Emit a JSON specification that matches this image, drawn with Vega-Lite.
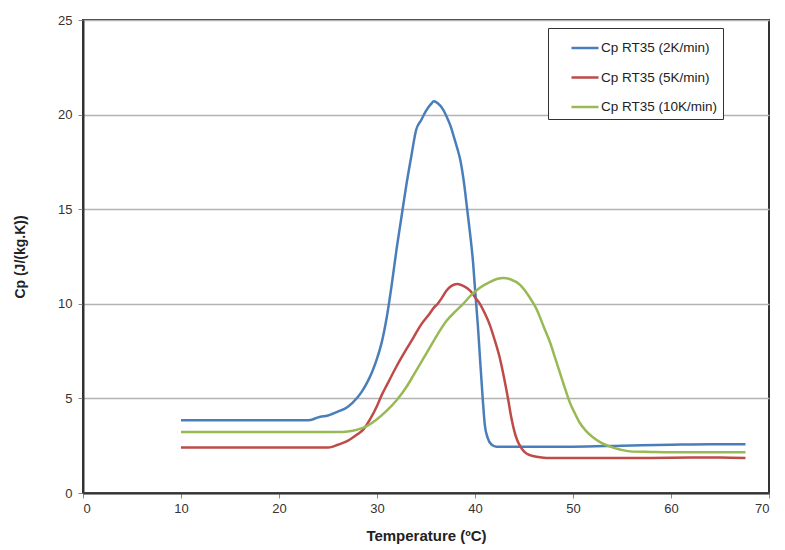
{
  "$schema": "https://vega.github.io/schema/vega-lite/v6.json",
  "width": 686,
  "height": 473,
  "autosize": {"type": "none"},
  "padding": {"left": 83, "top": 20, "right": 16, "bottom": 57},
  "background": "white",
  "config": {
    "font": "Liberation Sans",
    "view": {"stroke": "#333333", "strokeWidth": 2}
  },
  "data": {
    "values": [
      {"series": "Cp RT35 (2K/min)", "T": 10, "Cp": 3.85},
      {"series": "Cp RT35 (2K/min)", "T": 15, "Cp": 3.85},
      {"series": "Cp RT35 (2K/min)", "T": 20, "Cp": 3.85},
      {"series": "Cp RT35 (2K/min)", "T": 23, "Cp": 3.85},
      {"series": "Cp RT35 (2K/min)", "T": 23.5, "Cp": 3.9},
      {"series": "Cp RT35 (2K/min)", "T": 24, "Cp": 4.0},
      {"series": "Cp RT35 (2K/min)", "T": 25, "Cp": 4.1},
      {"series": "Cp RT35 (2K/min)", "T": 26, "Cp": 4.3},
      {"series": "Cp RT35 (2K/min)", "T": 27, "Cp": 4.55},
      {"series": "Cp RT35 (2K/min)", "T": 28, "Cp": 5.05},
      {"series": "Cp RT35 (2K/min)", "T": 28.5, "Cp": 5.4},
      {"series": "Cp RT35 (2K/min)", "T": 29, "Cp": 5.85},
      {"series": "Cp RT35 (2K/min)", "T": 29.5, "Cp": 6.4},
      {"series": "Cp RT35 (2K/min)", "T": 30, "Cp": 7.1},
      {"series": "Cp RT35 (2K/min)", "T": 30.5, "Cp": 8.0},
      {"series": "Cp RT35 (2K/min)", "T": 31, "Cp": 9.3},
      {"series": "Cp RT35 (2K/min)", "T": 31.5, "Cp": 11.0},
      {"series": "Cp RT35 (2K/min)", "T": 32, "Cp": 12.9},
      {"series": "Cp RT35 (2K/min)", "T": 32.5, "Cp": 14.6},
      {"series": "Cp RT35 (2K/min)", "T": 33, "Cp": 16.3},
      {"series": "Cp RT35 (2K/min)", "T": 33.5, "Cp": 17.8},
      {"series": "Cp RT35 (2K/min)", "T": 34, "Cp": 19.2},
      {"series": "Cp RT35 (2K/min)", "T": 34.5, "Cp": 19.7},
      {"series": "Cp RT35 (2K/min)", "T": 35, "Cp": 20.2},
      {"series": "Cp RT35 (2K/min)", "T": 35.5, "Cp": 20.55},
      {"series": "Cp RT35 (2K/min)", "T": 35.8, "Cp": 20.7},
      {"series": "Cp RT35 (2K/min)", "T": 36.2, "Cp": 20.6},
      {"series": "Cp RT35 (2K/min)", "T": 36.7, "Cp": 20.3},
      {"series": "Cp RT35 (2K/min)", "T": 37.1, "Cp": 19.9},
      {"series": "Cp RT35 (2K/min)", "T": 37.5, "Cp": 19.4},
      {"series": "Cp RT35 (2K/min)", "T": 37.8, "Cp": 18.9},
      {"series": "Cp RT35 (2K/min)", "T": 38.2, "Cp": 18.2},
      {"series": "Cp RT35 (2K/min)", "T": 38.5, "Cp": 17.6},
      {"series": "Cp RT35 (2K/min)", "T": 38.9, "Cp": 16.3},
      {"series": "Cp RT35 (2K/min)", "T": 39.2, "Cp": 15.0},
      {"series": "Cp RT35 (2K/min)", "T": 39.5, "Cp": 13.7},
      {"series": "Cp RT35 (2K/min)", "T": 39.8, "Cp": 12.2},
      {"series": "Cp RT35 (2K/min)", "T": 40.0, "Cp": 10.8},
      {"series": "Cp RT35 (2K/min)", "T": 40.3, "Cp": 8.8},
      {"series": "Cp RT35 (2K/min)", "T": 40.5, "Cp": 7.2},
      {"series": "Cp RT35 (2K/min)", "T": 40.8, "Cp": 4.9},
      {"series": "Cp RT35 (2K/min)", "T": 41.0, "Cp": 3.6},
      {"series": "Cp RT35 (2K/min)", "T": 41.3, "Cp": 2.9},
      {"series": "Cp RT35 (2K/min)", "T": 41.7, "Cp": 2.55},
      {"series": "Cp RT35 (2K/min)", "T": 42.2, "Cp": 2.45},
      {"series": "Cp RT35 (2K/min)", "T": 45, "Cp": 2.45},
      {"series": "Cp RT35 (2K/min)", "T": 50, "Cp": 2.45},
      {"series": "Cp RT35 (2K/min)", "T": 55, "Cp": 2.5},
      {"series": "Cp RT35 (2K/min)", "T": 60, "Cp": 2.55},
      {"series": "Cp RT35 (2K/min)", "T": 64, "Cp": 2.58},
      {"series": "Cp RT35 (2K/min)", "T": 67.6, "Cp": 2.58},

      {"series": "Cp RT35 (5K/min)", "T": 10, "Cp": 2.4},
      {"series": "Cp RT35 (5K/min)", "T": 20, "Cp": 2.4},
      {"series": "Cp RT35 (5K/min)", "T": 25, "Cp": 2.4},
      {"series": "Cp RT35 (5K/min)", "T": 25.5, "Cp": 2.45},
      {"series": "Cp RT35 (5K/min)", "T": 26, "Cp": 2.55},
      {"series": "Cp RT35 (5K/min)", "T": 27, "Cp": 2.75},
      {"series": "Cp RT35 (5K/min)", "T": 28, "Cp": 3.1},
      {"series": "Cp RT35 (5K/min)", "T": 28.6, "Cp": 3.35},
      {"series": "Cp RT35 (5K/min)", "T": 29.3, "Cp": 3.9},
      {"series": "Cp RT35 (5K/min)", "T": 30, "Cp": 4.6},
      {"series": "Cp RT35 (5K/min)", "T": 30.5, "Cp": 5.2},
      {"series": "Cp RT35 (5K/min)", "T": 31, "Cp": 5.7},
      {"series": "Cp RT35 (5K/min)", "T": 32, "Cp": 6.7},
      {"series": "Cp RT35 (5K/min)", "T": 33, "Cp": 7.6},
      {"series": "Cp RT35 (5K/min)", "T": 33.7, "Cp": 8.2},
      {"series": "Cp RT35 (5K/min)", "T": 34.5, "Cp": 8.9},
      {"series": "Cp RT35 (5K/min)", "T": 35.4, "Cp": 9.5},
      {"series": "Cp RT35 (5K/min)", "T": 35.8, "Cp": 9.8},
      {"series": "Cp RT35 (5K/min)", "T": 36.2, "Cp": 10.0},
      {"series": "Cp RT35 (5K/min)", "T": 36.6, "Cp": 10.3},
      {"series": "Cp RT35 (5K/min)", "T": 37.1, "Cp": 10.7},
      {"series": "Cp RT35 (5K/min)", "T": 37.6, "Cp": 10.95},
      {"series": "Cp RT35 (5K/min)", "T": 38.2, "Cp": 11.05},
      {"series": "Cp RT35 (5K/min)", "T": 38.8, "Cp": 10.95},
      {"series": "Cp RT35 (5K/min)", "T": 39.5, "Cp": 10.7},
      {"series": "Cp RT35 (5K/min)", "T": 40.0, "Cp": 10.35},
      {"series": "Cp RT35 (5K/min)", "T": 40.5, "Cp": 10.0},
      {"series": "Cp RT35 (5K/min)", "T": 41.0, "Cp": 9.5},
      {"series": "Cp RT35 (5K/min)", "T": 41.5, "Cp": 8.9},
      {"series": "Cp RT35 (5K/min)", "T": 42.0, "Cp": 8.1},
      {"series": "Cp RT35 (5K/min)", "T": 42.5, "Cp": 7.2},
      {"series": "Cp RT35 (5K/min)", "T": 43.0, "Cp": 6.0},
      {"series": "Cp RT35 (5K/min)", "T": 43.4, "Cp": 4.9},
      {"series": "Cp RT35 (5K/min)", "T": 43.7, "Cp": 4.0},
      {"series": "Cp RT35 (5K/min)", "T": 44.0, "Cp": 3.3},
      {"series": "Cp RT35 (5K/min)", "T": 44.3, "Cp": 2.8},
      {"series": "Cp RT35 (5K/min)", "T": 44.7, "Cp": 2.4},
      {"series": "Cp RT35 (5K/min)", "T": 45.1, "Cp": 2.15},
      {"series": "Cp RT35 (5K/min)", "T": 45.6, "Cp": 2.0},
      {"series": "Cp RT35 (5K/min)", "T": 46.5, "Cp": 1.9},
      {"series": "Cp RT35 (5K/min)", "T": 47.3, "Cp": 1.85},
      {"series": "Cp RT35 (5K/min)", "T": 55, "Cp": 1.85},
      {"series": "Cp RT35 (5K/min)", "T": 60, "Cp": 1.86},
      {"series": "Cp RT35 (5K/min)", "T": 65, "Cp": 1.88},
      {"series": "Cp RT35 (5K/min)", "T": 67.6, "Cp": 1.85},

      {"series": "Cp RT35 (10K/min)", "T": 10, "Cp": 3.22},
      {"series": "Cp RT35 (10K/min)", "T": 20, "Cp": 3.22},
      {"series": "Cp RT35 (10K/min)", "T": 26, "Cp": 3.22},
      {"series": "Cp RT35 (10K/min)", "T": 27, "Cp": 3.25},
      {"series": "Cp RT35 (10K/min)", "T": 28, "Cp": 3.35},
      {"series": "Cp RT35 (10K/min)", "T": 29, "Cp": 3.55},
      {"series": "Cp RT35 (10K/min)", "T": 30, "Cp": 3.9},
      {"series": "Cp RT35 (10K/min)", "T": 31, "Cp": 4.35},
      {"series": "Cp RT35 (10K/min)", "T": 32, "Cp": 4.9},
      {"series": "Cp RT35 (10K/min)", "T": 33, "Cp": 5.6},
      {"series": "Cp RT35 (10K/min)", "T": 33.7, "Cp": 6.2},
      {"series": "Cp RT35 (10K/min)", "T": 34.5, "Cp": 6.9},
      {"series": "Cp RT35 (10K/min)", "T": 35.4, "Cp": 7.7},
      {"series": "Cp RT35 (10K/min)", "T": 36.2, "Cp": 8.4},
      {"series": "Cp RT35 (10K/min)", "T": 37.1, "Cp": 9.1},
      {"series": "Cp RT35 (10K/min)", "T": 38, "Cp": 9.6},
      {"series": "Cp RT35 (10K/min)", "T": 38.8, "Cp": 10.0},
      {"series": "Cp RT35 (10K/min)", "T": 39.5, "Cp": 10.4},
      {"series": "Cp RT35 (10K/min)", "T": 40.5, "Cp": 10.85},
      {"series": "Cp RT35 (10K/min)", "T": 41.5, "Cp": 11.15},
      {"series": "Cp RT35 (10K/min)", "T": 42.3, "Cp": 11.32},
      {"series": "Cp RT35 (10K/min)", "T": 42.9, "Cp": 11.37},
      {"series": "Cp RT35 (10K/min)", "T": 43.6, "Cp": 11.3},
      {"series": "Cp RT35 (10K/min)", "T": 44.6, "Cp": 11.0},
      {"series": "Cp RT35 (10K/min)", "T": 45.5, "Cp": 10.4},
      {"series": "Cp RT35 (10K/min)", "T": 46.3, "Cp": 9.7},
      {"series": "Cp RT35 (10K/min)", "T": 47.0, "Cp": 8.8},
      {"series": "Cp RT35 (10K/min)", "T": 47.7, "Cp": 7.9},
      {"series": "Cp RT35 (10K/min)", "T": 48.2, "Cp": 7.1},
      {"series": "Cp RT35 (10K/min)", "T": 48.7, "Cp": 6.3},
      {"series": "Cp RT35 (10K/min)", "T": 49.2, "Cp": 5.5},
      {"series": "Cp RT35 (10K/min)", "T": 49.7, "Cp": 4.75},
      {"series": "Cp RT35 (10K/min)", "T": 50.2, "Cp": 4.2},
      {"series": "Cp RT35 (10K/min)", "T": 50.7, "Cp": 3.7},
      {"series": "Cp RT35 (10K/min)", "T": 51.3, "Cp": 3.3},
      {"series": "Cp RT35 (10K/min)", "T": 52.0, "Cp": 2.96},
      {"series": "Cp RT35 (10K/min)", "T": 52.8, "Cp": 2.68},
      {"series": "Cp RT35 (10K/min)", "T": 53.8, "Cp": 2.45},
      {"series": "Cp RT35 (10K/min)", "T": 54.8, "Cp": 2.3},
      {"series": "Cp RT35 (10K/min)", "T": 55.8, "Cp": 2.2},
      {"series": "Cp RT35 (10K/min)", "T": 57.9, "Cp": 2.17},
      {"series": "Cp RT35 (10K/min)", "T": 60, "Cp": 2.15},
      {"series": "Cp RT35 (10K/min)", "T": 65, "Cp": 2.15},
      {"series": "Cp RT35 (10K/min)", "T": 67.6, "Cp": 2.15}
    ]
  },
  "mark": {"type": "line", "strokeWidth": 2.5, "interpolate": "monotone"},
  "encoding": {
    "x": {
      "field": "T",
      "type": "quantitative",
      "scale": {"domain": [0, 70], "nice": false, "zero": false},
      "axis": {
        "title": "Temperature (ºC)",
        "titleFont": "Liberation Sans",
        "titleFontSize": 15,
        "titleFontWeight": "bold",
        "titleColor": "#222222",
        "titlePadding": 13,
        "values": [0, 10, 20, 30, 40, 50, 60, 70],
        "labelFontSize": 13,
        "labelColor": "#333333",
        "labelPadding": 4,
        "tickColor": "#888888",
        "tickSize": 5,
        "domainColor": "#333333",
        "domainWidth": 2,
        "grid": false
      }
    },
    "y": {
      "field": "Cp",
      "type": "quantitative",
      "scale": {"domain": [0, 25], "nice": false},
      "axis": {
        "title": "Cp (J/(kg.K))",
        "titleFont": "Liberation Sans",
        "titleFontSize": 14,
        "titleFontWeight": "bold",
        "titleColor": "#222222",
        "titlePadding": 30,
        "values": [0, 5, 10, 15, 20, 25],
        "labelFontSize": 13,
        "labelColor": "#333333",
        "labelPadding": 6,
        "tickColor": "#888888",
        "tickSize": 5,
        "domainColor": "#333333",
        "domainWidth": 2,
        "grid": true,
        "gridColor": "#b3b3b3",
        "gridWidth": 1.5
      }
    },
    "color": {
      "field": "series",
      "type": "nominal",
      "scale": {
        "domain": ["Cp RT35 (2K/min)", "Cp RT35 (5K/min)", "Cp RT35 (10K/min)"],
        "range": ["#4a7ebb", "#be4b48", "#98b954"]
      },
      "legend": {
        "title": "\u00a0\u00a0\u00a0\u00a0\u00a0\u00a0",
        "titleOrient": "right",
        "titleFontSize": 13.5,
        "titlePadding": 0,
        "orient": "none",
        "legendX": 465,
        "legendY": 8,
        "padding": 5,
        "symbolOffset": 17,
        "symbolType": "stroke",
        "symbolSize": 730,
        "symbolStrokeWidth": 2.5,
        "labelFontSize": 13.5,
        "labelColor": "#222222",
        "labelOffset": 1,
        "labelLimit": 300,
        "rowPadding": 7.5,
        "strokeColor": "#333333",
        "fillColor": "white",
        "cornerRadius": 0
      }
    }
  }
}
